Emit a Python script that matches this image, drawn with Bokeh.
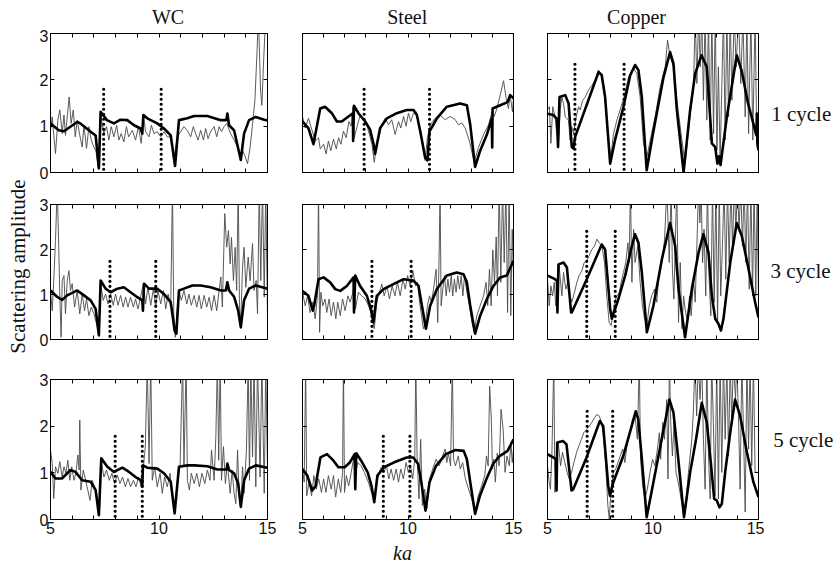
from bokeh.plotting import figure
from bokeh.layouts import row, column
from bokeh.models import Range1d, LinearAxis, FixedTicker, Label
from bokeh.embed import file_html
from bokeh.resources import INLINE

materials = ["WC", "Steel", "Copper"]
cycle_labels = ["1 cycle", "3 cycle", "5 cycle"]
x_ticks = [5, 6, 7, 8, 9, 10, 11, 12, 13, 14, 15]
x_tick_text = {5: "5", 10: "10", 15: "15"}
y_ticks = [0, 1, 2, 3]
x_label = "ka"
y_label = "Scattering amplitude"

# ---------------- 1 cycle ----------------
wc1_thick = [(5.0,1.06),(5.38,0.91),(5.62,0.89),(6.23,1.09),(6.38,1.06),(6.85,0.88),(7.08,0.80),(7.23,0.09),(7.31,1.31),(7.6,1.13),(7.92,1.06),(8.23,1.14),(8.54,1.13),(8.85,1.02),(9.15,0.95),(9.23,0.84),(9.28,1.24),(9.46,1.17),(9.92,1.06),(10.23,0.95),(10.54,0.80),(10.74,0.14),(10.92,1.13),(11.3,1.17),(11.62,1.22),(12.23,1.22),(12.85,1.13),(13.1,1.13),(13.15,1.27),(13.23,1.02),(13.46,0.91),(13.77,0.27),(13.92,0.84),(14.15,1.13),(14.46,1.2),(14.85,1.14),(15.0,1.12)]
wc1_thin = [(5.0,0.91),(5.08,1.2),(5.15,0.8),(5.23,0.41),(5.34,1.13),(5.43,1.35),(5.54,0.84),(5.62,1.24),(5.69,0.8),(5.77,1.2),(5.86,1.63),(5.95,1.06),(6.05,1.35),(6.14,0.77),(6.23,1.13),(6.35,0.8),(6.46,0.55),(6.54,1.02),(6.66,0.52),(6.77,0.99),(6.88,0.7),(7.0,0.55),(7.1,0.45),(7.2,0.1),(7.3,1.27),(7.46,0.84),(7.58,0.99),(7.69,0.7),(7.8,0.99),(7.92,0.77),(8.05,1.02),(8.15,0.7),(8.26,0.84),(8.38,0.66),(8.5,0.99),(8.6,0.77),(8.77,0.91),(8.92,0.7),(9.05,0.99),(9.18,0.63),(9.28,1.24),(9.38,0.88),(9.54,0.77),(9.65,1.02),(9.77,0.84),(9.92,0.88),(10.08,0.77),(10.23,0.88),(10.38,0.77),(10.54,0.77),(10.69,0.34),(10.85,0.77),(11.0,0.88),(11.15,0.99),(11.3,0.91),(11.46,0.77),(11.58,0.99),(11.69,0.84),(11.8,0.7),(11.92,0.91),(12.05,0.7),(12.15,0.95),(12.26,0.73),(12.38,0.88),(12.54,0.99),(12.66,0.77),(12.77,0.99),(12.88,0.88),(13.0,0.99),(13.12,1.06),(13.3,0.84),(13.46,0.7),(13.62,0.55),(13.74,0.34),(13.85,0.48),(13.95,0.37),(14.08,0.19),(14.2,0.55),(14.3,0.99),(14.42,1.56),(14.52,2.64),(14.58,3.4),(14.68,1.78),(14.74,1.45),(14.83,2.5),(14.92,3.4),(15.0,3.4)]
st1_thick = [(5.0,1.1),(5.28,0.96),(5.52,0.61),(5.84,1.38),(6.07,1.42),(6.39,1.28),(6.63,1.1),(6.86,1.1),(7.18,1.21),(7.39,1.28),(7.4,0.68),(7.44,1.44),(7.65,1.28),(7.97,1.1),(8.2,0.93),(8.37,0.61),(8.44,0.4),(8.68,0.96),(9.0,1.17),(9.47,1.28),(9.94,1.35),(10.26,1.35),(10.42,1.24),(10.58,0.89),(10.81,0.33),(10.92,0.26),(11.02,0.89),(11.37,1.17),(11.84,1.42),(12.47,1.49),(12.79,1.45),(12.95,1.03),(13.18,0.12),(13.42,0.47),(13.74,0.82),(13.97,1.17),(13.99,0.54),(14.01,1.38),(14.37,1.45),(14.72,1.52),(14.84,1.67),(15.0,1.6)]
st1_thin = [(5.0,1.21),(5.13,0.96),(5.28,1.17),(5.44,0.93),(5.6,0.68),(5.76,0.75),(5.84,0.51),(6.0,0.61),(6.12,0.4),(6.23,0.68),(6.34,0.47),(6.47,0.72),(6.6,0.51),(6.71,0.75),(6.82,0.61),(6.94,0.89),(7.07,0.75),(7.2,1.1),(7.31,1.0),(7.39,1.42),(7.45,0.75),(7.73,1.24),(8.05,1.03),(8.29,0.61),(8.4,0.22),(8.52,0.61),(8.76,1.03),(8.92,1.17),(9.08,1.03),(9.23,1.14),(9.39,0.82),(9.55,1.1),(9.66,0.96),(9.79,1.21),(9.91,1.0),(10.02,1.28),(10.13,1.1),(10.26,1.28),(10.39,1.31),(10.5,1.03),(10.66,0.68),(10.81,0.26),(10.92,0.75),(11.05,1.03),(11.29,1.17),(11.52,1.24),(11.76,1.14),(12.0,1.21),(12.24,1.14),(12.39,1.03),(12.55,1.07),(12.71,0.96),(12.91,0.68),(13.14,0.22),(13.34,0.54),(13.58,0.82),(13.82,1.03),(13.98,1.31),(14.09,1.21),(14.21,1.38),(14.37,1.67),(14.53,1.98),(14.65,1.6),(14.76,1.38),(14.84,1.67),(14.95,1.31),(15.0,1.6)]
cu1_thick = [(5.0,1.27),(5.28,1.24),(5.45,1.15),(5.5,0.55),(5.57,1.63),(5.84,1.67),(6.0,1.49),(6.15,0.55),(6.23,0.52),(6.31,0.77),(7.42,2.17),(7.57,2.1),(7.73,1.63),(7.97,0.19),(8.2,0.7),(8.6,1.42),(8.92,2.1),(9.15,2.32),(9.31,2.21),(9.47,1.63),(9.7,0.05),(10.0,0.84),(10.5,2.06),(10.81,2.6),(10.97,2.35),(11.13,1.35),(11.45,0.01),(11.76,1.35),(12.0,2.14),(12.3,2.53),(12.55,2.28),(12.79,0.63),(12.95,0.55),(13.05,0.19),(13.13,0.35),(13.2,0.16),(13.5,1.2),(13.97,2.53),(14.2,2.2),(14.5,1.5),(14.9,0.8),(14.92,1.27),(14.95,0.6),(15.0,0.48)]
cu1_thin = [(5.0,1.35),(5.09,1.42),(5.16,0.63),(5.25,1.42),(5.36,1.2),(5.44,0.84),(5.52,0.7),(5.6,1.35),(5.68,1.63),(5.76,1.49),(5.84,1.2),(6.0,1.13),(6.07,0.7),(6.15,0.99),(6.23,0.84),(6.36,1.2),(6.47,1.42),(6.55,1.35),(6.67,1.56),(6.79,1.63),(6.94,1.78),(7.1,1.88),(7.26,1.99),(7.42,2.21),(7.58,2.06),(7.73,1.56),(7.89,0.7),(8.0,0.34),(8.13,0.84),(8.29,1.13),(8.44,1.35),(8.63,1.63),(8.84,2.06),(9.08,2.24),(9.23,2.14),(9.39,1.63),(9.55,0.63),(9.71,0.34),(9.87,0.7),(10.1,1.2),(10.34,1.85),(10.58,2.28),(10.69,2.86),(10.81,2.5),(10.97,2.28),(11.13,1.56),(11.37,0.7),(11.52,0.19),(11.73,1.13),(11.92,1.85),(12.0,3.4),(12.08,1.92),(12.16,3.4),(12.24,2.28),(12.31,3.4),(12.39,1.56),(12.47,3.4),(12.55,1.13),(12.63,3.4),(12.71,0.7),(12.79,3.4),(12.87,0.84),(12.95,3.4),(13.03,0.48),(13.1,2.28),(13.18,0.27),(13.34,3.4),(13.42,0.7),(13.5,3.4),(13.58,1.2),(13.66,3.4),(13.74,1.56),(13.85,3.4),(13.94,2.28),(14.05,3.4),(14.16,1.92),(14.26,3.4),(14.37,1.2),(14.45,3.4),(14.53,0.84),(14.64,3.4),(14.73,0.7),(14.84,3.4),(14.92,0.63),(15.0,1.35)]

# ---------------- 3 cycle ----------------
wc3_thick = [(5.0,1.09),(5.3,0.95),(5.54,0.88),(5.77,0.98),(6.23,1.09),(6.54,0.98),(6.85,0.87),(7.08,0.68),(7.23,0.09),(7.31,1.31),(7.54,1.13),(7.77,1.05),(8.08,1.13),(8.38,1.16),(8.69,1.05),(9.0,0.94),(9.23,0.87),(9.26,0.64),(9.31,1.24),(9.54,1.13),(9.92,1.13),(10.23,1.01),(10.54,0.83),(10.72,0.2),(10.8,0.13),(10.92,1.09),(11.15,1.13),(11.54,1.2),(11.92,1.2),(12.38,1.16),(12.85,1.09),(13.08,1.09),(13.15,1.27),(13.23,1.09),(13.46,0.95),(13.65,0.64),(13.77,0.27),(13.92,0.87),(14.15,1.13),(14.46,1.2),(15.0,1.13)]
wc3_thin = [(5.0,1.09),(5.08,0.64),(5.15,1.31),(5.23,2.2),(5.31,3.4),(5.38,2.05),(5.43,0.94),(5.49,0.05),(5.54,1.31),(5.62,1.42),(5.69,0.57),(5.77,1.31),(5.85,1.53),(5.92,1.09),(6.0,1.24),(6.11,0.72),(6.23,1.09),(6.35,0.57),(6.46,1.01),(6.57,0.64),(6.66,0.9),(6.77,0.53),(6.88,0.72),(7.0,0.57),(7.12,0.35),(7.23,0.13),(7.31,1.24),(7.43,0.87),(7.54,1.01),(7.65,0.79),(7.77,1.01),(7.89,0.76),(8.0,1.01),(8.11,0.76),(8.23,0.98),(8.35,0.72),(8.46,0.94),(8.57,0.72),(8.69,0.94),(8.82,0.72),(8.92,0.9),(9.03,0.68),(9.15,0.94),(9.28,1.24),(9.38,0.79),(9.49,1.16),(9.62,0.76),(9.74,1.13),(9.85,0.72),(9.95,1.09),(10.08,0.79),(10.2,1.09),(10.31,0.68),(10.42,1.01),(10.54,0.72),(10.62,3.4),(10.68,0.57),(10.75,0.05),(10.85,0.72),(10.92,1.09),(11.03,0.87),(11.15,1.09),(11.28,0.79),(11.38,1.01),(11.49,0.76),(11.62,0.98),(11.74,0.72),(11.85,0.98),(11.95,0.68),(12.08,0.98),(12.2,0.72),(12.31,0.94),(12.42,0.64),(12.54,0.98),(12.66,0.64),(12.77,1.09),(12.85,1.39),(12.92,0.72),(13.03,2.8),(13.12,2.05),(13.2,2.42),(13.28,1.68),(13.34,2.27),(13.43,1.31),(13.51,2.05),(13.58,1.09),(13.65,3.4),(13.71,0.72),(13.77,0.42),(13.85,1.61),(13.92,2.05),(14.0,1.16),(14.11,1.83),(14.2,1.31),(14.31,2.13),(14.38,1.09),(14.48,1.31),(14.54,0.57),(14.62,3.4),(14.69,1.31),(14.77,3.4),(14.85,0.94),(14.92,3.4),(15.0,0.5)]
st3_thick = [(5.0,1.08),(5.28,0.97),(5.49,0.64),(5.55,0.75),(5.76,1.34),(6.0,1.38),(6.31,1.27),(6.55,1.12),(6.79,1.08),(7.1,1.19),(7.42,1.38),(7.44,0.6),(7.5,1.42),(7.73,1.19),(8.05,0.97),(8.24,0.68),(8.36,0.38),(8.52,0.97),(8.84,1.12),(9.31,1.23),(9.79,1.34),(10.26,1.31),(10.5,1.19),(10.66,0.75),(10.85,0.24),(11.05,0.75),(11.37,1.12),(11.84,1.42),(12.31,1.49),(12.63,1.45),(12.79,1.27),(12.95,0.75),(13.18,0.13),(13.42,0.53),(13.74,0.9),(14.05,1.19),(14.37,1.38),(14.68,1.42),(15.0,1.75)]
st3_thin = [(5.0,1.05),(5.13,0.75),(5.24,0.97),(5.36,0.6),(5.49,0.83),(5.6,0.46),(5.71,0.97),(5.76,3.4),(5.81,0.16),(5.87,1.05),(5.96,0.75),(6.07,0.9),(6.15,0.6),(6.26,0.9),(6.36,0.53),(6.47,0.83),(6.58,0.46),(6.67,0.83),(6.79,0.53),(6.9,0.9),(7.02,0.64),(7.15,0.97),(7.26,0.83),(7.39,1.05),(7.45,1.34),(7.51,0.68),(7.65,1.05),(7.81,0.97),(7.97,0.9),(8.13,0.75),(8.29,0.53),(8.4,0.24),(8.52,0.83),(8.65,1.05),(8.76,1.23),(8.87,0.97),(9.0,1.19),(9.12,0.9),(9.25,1.19),(9.38,0.97),(9.5,1.27),(9.63,0.97),(9.76,1.34),(9.87,1.12),(9.98,1.42),(10.1,1.19),(10.23,1.53),(10.36,1.19),(10.45,1.27),(10.55,0.83),(10.64,0.53),(10.73,0.24),(10.83,0.38),(10.92,0.75),(11.02,0.97),(11.11,0.83),(11.21,1.12),(11.33,1.56),(11.41,0.38),(11.48,1.99),(11.52,3.4),(11.57,0.75),(11.65,1.12),(11.73,1.42),(11.81,0.97),(11.89,1.34),(11.97,1.05),(12.05,1.42),(12.12,0.97),(12.2,1.34),(12.28,1.05),(12.36,1.42),(12.44,1.12),(12.52,1.42),(12.6,0.97),(12.68,1.42),(12.79,1.05),(12.91,0.75),(13.03,0.38),(13.14,0.16),(13.26,0.53),(13.42,0.75),(13.58,0.97),(13.7,1.27),(13.78,0.75),(13.86,1.56),(13.94,0.75),(14.02,1.99),(14.1,1.27),(14.18,2.28),(14.24,0.97),(14.32,3.4),(14.4,1.27),(14.48,3.4),(14.56,1.71),(14.64,3.4),(14.72,0.6),(14.79,3.4),(14.87,0.53),(14.94,2.45),(15.0,1.42)]
cu3_thick = [(5.0,1.42),(5.36,1.34),(5.45,1.3),(5.47,0.6),(5.52,1.67),(5.76,1.71),(5.92,1.6),(6.12,0.6),(6.15,0.6),(6.86,1.34),(7.57,2.11),(7.73,2.0),(7.97,0.68),(8.05,0.46),(8.36,0.9),(8.68,1.42),(9.0,2.08),(9.15,2.34),(9.31,2.15),(9.47,1.49),(9.71,0.16),(10.02,0.75),(10.42,1.78),(10.81,2.59),(11.05,2.08),(11.21,1.12),(11.52,0.05),(11.84,1.12),(12.16,1.93),(12.39,2.34),(12.63,1.93),(12.79,0.97),(12.95,0.46),(13.1,0.35),(13.22,0.2),(13.34,0.46),(13.66,1.71),(13.97,2.59),(14.21,2.3),(14.53,1.56),(14.84,0.83),(15.0,0.49)]
cu3_thin = [(5.0,1.34),(5.08,0.75),(5.16,1.19),(5.24,0.97),(5.32,1.27),(5.39,0.75),(5.47,1.34),(5.55,1.64),(5.68,0.97),(5.76,1.49),(5.87,1.12),(5.96,1.27),(6.07,0.97),(6.15,0.83),(6.28,1.05),(6.39,1.27),(6.5,1.42),(6.63,1.53),(6.74,1.71),(6.86,1.75),(6.97,1.86),(7.1,2.0),(7.23,2.08),(7.34,2.23),(7.45,2.15),(7.58,2.08),(7.7,1.71),(7.81,0.97),(7.92,0.38),(8.02,0.31),(8.08,0.53),(8.18,0.83),(8.29,0.97),(8.4,1.05),(8.49,1.27),(8.6,1.49),(8.71,1.71),(8.81,2.15),(8.87,1.71),(8.93,3.4),(9.0,1.27),(9.08,2.45),(9.15,1.71),(9.28,2.08),(9.39,1.27),(9.5,0.75),(9.6,0.46),(9.71,0.31),(9.82,0.75),(9.94,0.97),(10.07,1.12),(10.18,0.83),(10.29,1.49),(10.42,1.71),(10.55,2.23),(10.66,3.4),(10.77,1.71),(10.86,3.4),(10.92,1.56),(10.99,0.9),(11.05,2.08),(11.13,3.4),(11.21,0.38),(11.29,1.71),(11.37,0.24),(11.45,0.97),(11.52,0.68),(11.63,0.38),(11.73,0.97),(11.81,0.53),(11.92,1.34),(12.0,0.83),(12.08,2.08),(12.16,3.4),(12.22,2.59),(12.28,3.4),(12.35,1.71),(12.42,2.45),(12.5,0.97),(12.58,3.4),(12.66,1.34),(12.74,0.53),(12.82,3.4),(12.9,0.83),(12.98,3.4),(13.06,0.38),(13.14,3.4),(13.21,0.97),(13.29,2.08),(13.37,3.4),(13.45,1.34),(13.53,3.4),(13.61,1.71),(13.69,3.4),(13.77,2.08),(13.85,3.4),(13.93,2.45),(14.0,3.4),(14.08,2.45),(14.16,3.4),(14.24,2.08),(14.32,3.4),(14.4,1.71),(14.48,3.4),(14.56,1.12),(14.64,3.4),(14.72,0.97),(14.79,3.4),(14.87,0.97),(14.94,3.4),(15.0,0.75)]

# ---------------- 5 cycle ----------------
wc5_thick = [(5.0,1.02),(5.23,0.88),(5.54,0.88),(5.92,1.06),(6.15,1.02),(6.46,0.84),(6.85,0.81),(7.08,0.63),(7.23,0.09),(7.34,1.31),(7.62,1.13),(7.92,1.02),(8.31,1.11),(8.62,1.02),(8.92,0.91),(9.18,0.84),(9.23,0.7),(9.26,1.16),(9.46,1.11),(9.92,1.09),(10.23,0.99),(10.54,0.81),(10.72,0.13),(10.92,1.13),(11.31,1.16),(11.62,1.16),(12.23,1.14),(12.69,1.07),(13.12,1.07),(13.15,1.2),(13.23,1.06),(13.46,0.99),(13.65,0.77),(13.77,0.27),(13.92,0.84),(14.15,1.09),(14.46,1.16),(15.0,1.11)]
wc5_thin = [(5.0,1.49),(5.08,1.2),(5.15,0.45),(5.23,1.13),(5.34,0.99),(5.43,1.24),(5.54,0.91),(5.62,1.13),(5.71,0.99),(5.8,1.27),(5.89,0.84),(5.98,1.13),(6.08,0.84),(6.17,0.99),(6.26,1.38),(6.32,1.06),(6.35,2.13),(6.4,0.63),(6.51,1.06),(6.62,0.84),(6.72,0.63),(6.82,0.41),(6.92,0.84),(7.03,0.7),(7.15,0.49),(7.25,0.13),(7.34,1.24),(7.46,0.91),(7.58,1.06),(7.71,0.84),(7.83,0.99),(7.95,0.77),(8.08,0.95),(8.2,0.77),(8.32,0.91),(8.45,0.7),(8.57,0.88),(8.69,0.7),(8.82,0.84),(8.94,0.7),(9.06,0.91),(9.18,0.7),(9.28,1.13),(9.37,1.56),(9.46,3.4),(9.54,1.2),(9.62,3.4),(9.69,0.84),(9.8,1.13),(9.92,0.7),(10.05,0.99),(10.15,0.56),(10.26,0.91),(10.38,0.7),(10.51,0.99),(10.62,0.49),(10.72,0.16),(10.85,0.84),(10.97,1.13),(11.09,3.4),(11.15,1.13),(11.25,3.4),(11.31,0.84),(11.4,0.63),(11.49,0.99),(11.62,0.77),(11.74,0.99),(11.86,0.7),(11.98,0.99),(12.11,0.77),(12.23,1.06),(12.35,0.84),(12.42,1.49),(12.54,0.84),(12.62,1.77),(12.69,3.4),(12.75,1.27),(12.82,3.4),(12.88,0.84),(12.97,1.56),(13.06,0.77),(13.15,1.2),(13.28,0.56),(13.37,1.06),(13.46,0.56),(13.54,0.34),(13.62,1.49),(13.69,0.56),(13.77,0.27),(13.85,1.13),(13.92,0.56),(14.03,1.49),(14.11,3.4),(14.17,0.84),(14.23,3.4),(14.31,1.34),(14.38,3.4),(14.46,0.7),(14.54,3.4),(14.66,0.91),(14.74,3.4),(14.85,0.56),(14.92,3.4),(15.0,1.06)]
st5_thick = [(5.0,1.08),(5.23,0.94),(5.46,0.62),(5.62,0.72),(5.85,1.33),(6.16,1.4),(6.47,1.26),(6.7,1.12),(7.0,1.12),(7.24,1.22),(7.47,1.4),(7.5,0.65),(7.55,1.42),(7.78,1.26),(8.09,1.01),(8.27,0.72),(8.4,0.37),(8.55,0.94),(8.86,1.12),(9.32,1.22),(9.94,1.33),(10.25,1.33),(10.48,1.19),(10.63,0.8),(10.83,0.19),(11.02,0.8),(11.33,1.15),(11.79,1.4),(12.25,1.49),(12.64,1.47),(12.79,1.29),(12.95,0.8),(13.18,0.12),(13.41,0.51),(13.72,0.87),(14.03,1.19),(14.34,1.36),(14.72,1.47),(15.0,1.72)]
st5_thin = [(5.0,1.08),(5.08,0.8),(5.15,3.4),(5.2,0.51),(5.31,0.8),(5.43,0.51),(5.54,0.94),(5.65,0.65),(5.77,0.87),(5.9,0.58),(6.0,0.87),(6.11,0.58),(6.23,0.94),(6.36,0.65),(6.47,0.94),(6.57,0.48),(6.7,0.87),(6.81,0.58),(6.9,1.01),(6.94,3.4),(6.99,0.58),(7.08,0.94),(7.19,0.72),(7.31,1.01),(7.44,1.36),(7.52,1.01),(7.62,1.22),(7.78,1.15),(7.93,1.01),(8.12,0.8),(8.27,0.58),(8.4,0.44),(8.52,0.8),(8.63,1.01),(8.73,1.12),(8.86,1.01),(8.98,1.15),(9.09,0.87),(9.2,1.08),(9.32,0.84),(9.44,1.08),(9.55,0.8),(9.66,1.08),(9.78,0.87),(9.91,1.22),(10.02,1.01),(10.12,1.15),(10.22,0.87),(10.32,1.29),(10.37,3.4),(10.43,1.36),(10.52,0.44),(10.6,1.72),(10.68,0.3),(10.79,0.65),(10.9,0.23),(11.02,0.87),(11.17,1.08),(11.33,1.29),(11.48,1.15),(11.64,1.36),(11.76,1.51),(11.84,1.22),(11.91,1.42),(12.02,1.15),(12.1,3.4),(12.16,1.29),(12.25,1.15),(12.38,1.36),(12.48,1.08),(12.59,1.22),(12.72,0.87),(12.87,0.65),(13.02,0.44),(13.18,0.16),(13.33,0.51),(13.49,0.72),(13.64,0.94),(13.72,1.36),(13.8,1.15),(13.87,2.86),(13.95,2.15),(14.0,1.08),(14.07,1.29),(14.14,0.8),(14.23,1.42),(14.32,1.15),(14.41,2.36),(14.51,1.93),(14.6,1.01),(14.69,1.36),(14.8,1.15),(14.88,1.65),(14.94,1.22),(15.0,1.51)]
cu5_thick = [(5.0,1.4),(5.27,1.33),(5.4,1.29),(5.43,0.62),(5.46,1.65),(5.74,1.68),(5.9,1.61),(6.14,0.62),(6.22,0.65),(6.85,1.33),(7.48,2.11),(7.64,2.0),(7.88,0.72),(7.96,0.51),(8.12,0.8),(8.59,1.36),(8.99,2.0),(9.18,2.32),(9.3,2.15),(9.46,1.36),(9.7,0.05),(10.02,0.8),(10.41,1.72),(10.78,2.57),(10.97,2.29),(11.2,1.29),(11.47,0.05),(11.76,1.01),(12.04,1.72),(12.31,2.5),(12.55,2.08),(12.74,1.22),(12.9,0.44),(13.02,0.41),(13.15,0.26),(13.26,0.33),(13.42,1.01),(13.66,1.86),(13.89,2.57),(14.13,2.22),(14.45,1.44),(14.76,0.8),(15.0,0.48)]
cu5_thin = [(5.0,1.15),(5.08,0.8),(5.14,0.65),(5.21,1.44),(5.3,3.4),(5.35,0.58),(5.43,1.36),(5.51,1.65),(5.62,1.15),(5.71,1.44),(5.82,1.22),(5.93,1.01),(6.03,0.87),(6.14,1.01),(6.25,1.22),(6.38,1.44),(6.49,1.58),(6.61,1.72),(6.72,1.86),(6.85,1.93),(6.98,2.0),(7.1,2.08),(7.23,2.18),(7.33,2.25),(7.45,2.22),(7.56,2.08),(7.67,1.72),(7.77,1.08),(7.86,0.3),(7.93,0.01),(8.01,0.65),(8.12,1.01),(8.23,1.08),(8.34,1.22),(8.45,1.36),(8.56,1.51),(8.67,1.22),(8.78,1.65),(8.91,1.86),(9.03,2.15),(9.15,2.22),(9.26,1.72),(9.35,3.4),(9.41,1.29),(9.51,0.72),(9.62,0.44),(9.73,0.65),(9.86,1.01),(9.98,1.29),(10.09,1.15),(10.21,1.51),(10.3,1.86),(10.36,1.29),(10.46,2.08),(10.54,1.72),(10.65,2.57),(10.71,0.87),(10.78,3.4),(10.84,2.08),(10.92,1.36),(11.0,2.08),(11.09,1.01),(11.19,0.8),(11.28,0.58),(11.38,0.3),(11.47,0.16),(11.57,0.44),(11.68,1.01),(11.76,1.36),(11.84,1.72),(11.91,2.29),(11.99,3.4),(12.07,2.22),(12.15,3.4),(12.23,2.57),(12.31,3.4),(12.39,1.72),(12.47,0.65),(12.55,3.4),(12.63,1.36),(12.71,0.44),(12.78,3.4),(12.86,2.08),(12.94,0.51),(13.02,3.4),(13.1,0.44),(13.18,3.4),(13.26,1.01),(13.34,3.4),(13.42,1.72),(13.5,3.4),(13.58,1.36),(13.66,3.4),(13.73,2.08),(13.81,3.4),(13.91,2.57),(13.97,3.4),(14.05,2.22),(14.13,0.65),(14.21,3.4),(14.29,1.86),(14.37,0.16),(14.45,3.4),(14.53,1.51),(14.6,3.4),(14.68,1.15),(14.76,3.4),(14.84,1.01),(14.92,1.01),(15.0,1.01)]

# vertical dotted markers (ka positions) and their tops
dots_x = [[[7.45, 10.1], [7.92, 11.02], [6.3, 8.63]],
          [[7.74, 9.85], [8.29, 10.15], [6.86, 8.21]],
          [[7.98, 9.23], [8.83, 10.09], [6.88, 8.09]]]
dots_top = [[1.81, 1.82, 2.39], [1.81, 1.8, 2.45], [1.8, 1.79, 2.36]]
dots_bottom = 0.07

thin = [[wc1_thin, st1_thin, cu1_thin], [wc3_thin, st3_thin, cu3_thin], [wc5_thin, st5_thin, cu5_thin]]
thick = [[wc1_thick, st1_thick, cu1_thick], [wc3_thick, st3_thick, cu3_thick], [wc5_thick, st5_thick, cu5_thick]]

# ---------------- layout (pixels; page starts at 0,0) ----------------
LAB_W = 34
CYC_W = 70
TITLE_H = 29
KA_H = 23
col_fw = [217, 211, 211]
col_bl = [16, 18, 17]
col_br = [17, 17, 6]
row_fh = [139, 135, 140]
row_bt = [4, 16, 20]
row_bb = [16, 20, 22]

grid_w = sum(col_bl) + sum(col_fw) + sum(col_br)
total_h = TITLE_H + sum(row_bt) + sum(row_fh) + sum(row_bb) + KA_H

# text placement inside the text strips (strip pixel coordinates)
title_x = [133.5, 372.7, 602.0]
title_y = 12.5
cycle_x = [6.7, 6.0, 8.7]
cycle_y = [451, 294, 125]
ka_pos = (368, 11.5)
ylab_pos = (17.5, 298)

SERIF = "Liberation Serif"
SANS = "Liberation Sans"
TXT = "#111111"


def style_axis(ax, ticks, overrides, show):
    ax.ticker = FixedTicker(ticks=ticks)
    ax.major_tick_in = 4
    ax.major_tick_out = 0
    ax.minor_tick_line_color = None
    ax.axis_line_color = "black"
    ax.major_tick_line_color = "black"
    ax.major_label_text_font = SANS
    ax.major_label_standoff = 2
    if show:
        ax.major_label_text_color = TXT
        ax.major_label_text_font_size = "16px"
        ax.major_label_overrides = overrides
    else:
        ax.major_label_text_color = None
        ax.major_label_text_font_size = "0px"
        ax.major_label_standoff = 0


def make_panel(r, c):
    p = figure(width=col_bl[c] + col_fw[c] + col_br[c],
               height=row_bt[r] + row_fh[r] + row_bb[r],
               x_range=Range1d(5, 15), y_range=Range1d(0, 3),
               output_backend="svg", toolbar_location=None,
               min_border_left=col_bl[c], min_border_right=col_br[c],
               min_border_top=row_bt[r], min_border_bottom=row_bb[r])
    p.grid.visible = False
    p.outline_line_color = "black"
    p.background_fill_color = "white"
    p.border_fill_color = "white"
    p.add_layout(LinearAxis(), "above")
    p.add_layout(LinearAxis(), "right")
    xo = {t: x_tick_text.get(t, "") for t in x_ticks}
    yo = {t: str(t) for t in y_ticks}
    style_axis(p.below[0], x_ticks, xo, r == 2)
    style_axis(p.above[0], x_ticks, xo, False)
    style_axis(p.left[0], y_ticks, yo, c == 0)
    style_axis(p.right[0], y_ticks, yo, False)

    tx = [q[0] for q in thin[r][c]]
    ty = [q[1] for q in thin[r][c]]
    p.line(tx, ty, line_color="#4a4a4a", line_width=0.9)
    kx = [q[0] for q in thick[r][c]]
    ky = [q[1] for q in thick[r][c]]
    p.line(kx, ky, line_color="black", line_width=2.6, line_join="round")
    for xd in dots_x[r][c]:
        p.line([xd, xd], [dots_bottom, dots_top[r][c]], line_color="black",
               line_width=3.2, line_dash="0 5", line_cap="round")
    return p


def text_strip(w, h):
    s = figure(width=w, height=h, x_range=Range1d(0, w), y_range=Range1d(0, h),
               x_axis_type=None, y_axis_type=None, output_backend="svg",
               toolbar_location=None, min_border=0)
    s.outline_line_color = None
    s.grid.visible = False
    s.background_fill_color = "white"
    s.border_fill_color = "white"
    return s


def add_text(s, x, y, text, size="20px", align="center", style="normal", angle=0):
    s.add_layout(Label(x=x, y=y, text=text, text_align=align, text_baseline="middle",
                       text_font=SERIF, text_font_size=size, text_font_style=style,
                       text_color=TXT, angle=angle, angle_units="deg"))


# titles strip
title_fig = text_strip(grid_w, TITLE_H)
for c in range(3):
    add_text(title_fig, title_x[c], title_y, materials[c])

# x-axis label strip
ka_fig = text_strip(grid_w, KA_H)
add_text(ka_fig, ka_pos[0], ka_pos[1], x_label, size="20px", style="italic")

# y-axis label strip
lab = text_strip(LAB_W, total_h)
add_text(lab, ylab_pos[0], ylab_pos[1], y_label, size="21px", angle=90)

# cycle labels strip
cyc = text_strip(CYC_W, total_h)
for r in range(3):
    add_text(cyc, cycle_x[r], cycle_y[r], cycle_labels[r], size="21px", align="left")

rows = [row(*[make_panel(r, c) for c in range(3)]) for r in range(3)]
middle = column(title_fig, *rows, ka_fig)
page = row(lab, middle, cyc)
open("out.html", "w").write(file_html(page, INLINE))
